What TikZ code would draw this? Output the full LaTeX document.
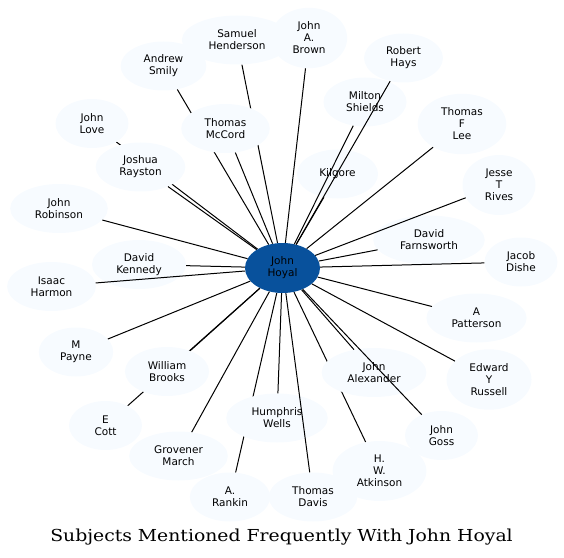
\documentclass[tikz,border=0pt]{standalone}
\usepackage{fontspec}
\setmainfont{DejaVu Sans}
\newfontfamily\titlefont[FakeStretch=1.14]{DejaVu Serif}
\usetikzlibrary{shapes.geometric,backgrounds}
\definecolor{paleblue}{HTML}{F7FBFF}
\definecolor{hoyalblue}{HTML}{08519C}
\begin{document}
\begin{tikzpicture}[x=1bp, y=-1bp, font={\fontsize{10.5bp}{12bp}\selectfont},
  p/.style={ellipse, fill=paleblue, align=center, inner xsep=10.5bp, inner ysep=5.3bp, minimum width=73bp, minimum height=49bp},
  link/.style={line width=1bp, black}]
  \useasboundingbox (0,0) rectangle (564,558);
  \node[p, fill=hoyalblue, minimum width=75bp, minimum height=50bp] (hoyal) at (282.5,268) {John\\Hoyal};
  \node[p] (henderson) at (237,40) {Samuel\\Henderson};
  \node[p] (brown) at (309,38) {John\\A.\\Brown};
  \node[p] (smily) at (163.5,66) {Andrew\\Smily};
  \node[p] (hays) at (403.5,58) {Robert\\Hays};
  \node[p] (shields) at (365,102) {Milton\\Shields};
  \node[p] (lee) at (462,124) {Thomas\\F\\Lee};
  \node[p] (kilgore) at (337.5,174) {Kilgore};
  \node[p] (rives) at (499,185) {Jesse\\T\\Rives};
  \node[p] (farnsworth) at (429,240) {David\\Farnsworth};
  \node[p] (dishe) at (521,262) {Jacob\\Dishe};
  \node[p] (patterson) at (476.5,318) {A\\Patterson};
  \node[p] (russell) at (489,379.5) {Edward\\Y\\Russell};
  \node[p] (alexander) at (374,372.5) {John\\Alexander};
  \node[p] (goss) at (441.5,435.5) {John\\Goss};
  \node[p] (atkinson) at (379.5,471) {H.\\W.\\Atkinson};
  \node[p] (rankin) at (230,497) {A.\\Rankin};
  \node[p] (davis) at (313,497) {Thomas\\Davis};
  \node[p] (wells) at (277,418) {Humphris\\Wells};
  \node[p] (march) at (178.5,456) {Grovener\\March};
  \node[p] (cott) at (105.5,425.5) {E\\Cott};
  \node[p] (brooks) at (167,371.5) {William\\Brooks};
  \node[p] (payne) at (76,352) {M\\Payne};
  \node[p] (harmon) at (51.5,286.5) {Isaac\\Harmon};
  \node[p] (kennedy) at (139,264.5) {David\\Kennedy};
  \node[p] (robinson) at (59,208.5) {John\\Robinson};
  \node[p] (rayston) at (140.5,167) {Joshua\\Rayston};
  \node[p] (love) at (92,123.5) {John\\Love};
  \node[p] (mccord) at (225.5,128.5) {Thomas\\McCord};
  \node[font=\titlefont\fontsize{16.5bp}{19bp}\selectfont] (title) at (281.5,537) {Subjects Mentioned Frequently With John Hoyal};
  % these run under the nodes in front of them
  \begin{pgfonlayer}{background}
    \draw[link] (hoyal) -- (smily);
    \draw[link] (hoyal) -- (henderson);
    \draw[link] (hoyal) -- (love);
    \draw[link] (hoyal) -- (cott);
    \draw[link] (hoyal) -- (rankin);
    \draw[link] (hoyal) -- (atkinson);
  \end{pgfonlayer}
  \draw[link] (hoyal) -- (mccord);
  \draw[link] (hoyal) -- (brown);
  \draw[link] (hoyal) -- (hays);
  \draw[link] (hoyal) -- (shields);
  \draw[link] (hoyal) -- (kilgore);
  \draw[link] (hoyal) -- (lee);
  \draw[link] (hoyal) -- (rives);
  \draw[link] (hoyal) -- (farnsworth);
  \draw[link] (hoyal) -- (dishe);
  \draw[link] (hoyal) -- (patterson);
  \draw[link] (hoyal) -- (russell);
  \draw[link] (hoyal) -- (alexander);
  \draw[link] (hoyal) -- (goss);
  \draw[link] (hoyal) -- (davis);
  \draw[link] (hoyal) -- (wells);
  \draw[link] (hoyal) -- (march);
  \draw[link] (hoyal) -- (brooks);
  \draw[link] (hoyal) -- (payne);
  \draw[link] (hoyal) -- (harmon);
  \draw[link] (hoyal) -- (kennedy);
  \draw[link] (hoyal) -- (robinson);
  \draw[link] (hoyal) -- (rayston);
\end{tikzpicture}
\end{document}
